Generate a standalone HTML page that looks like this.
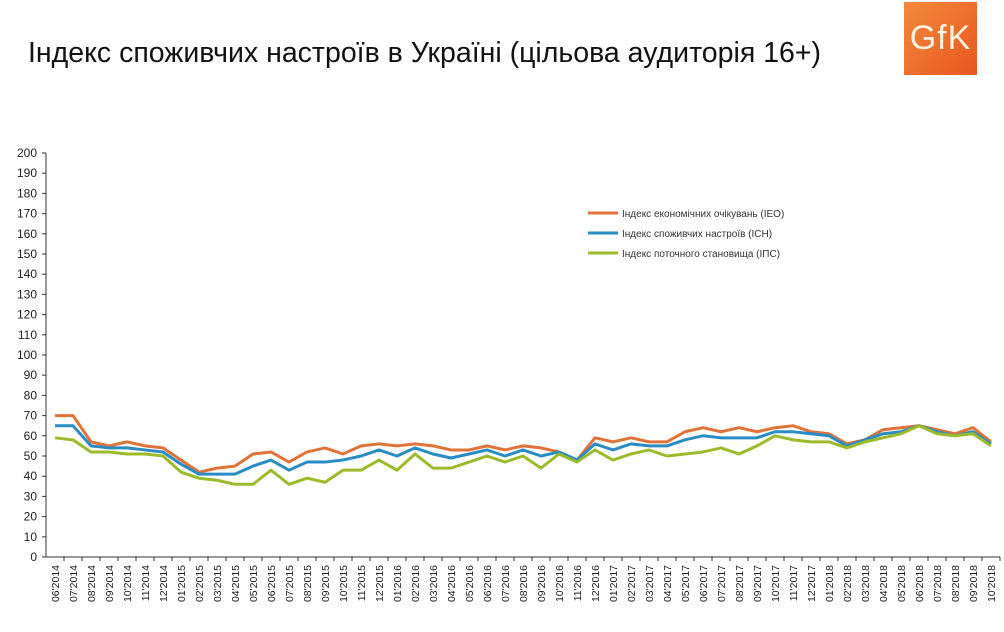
<!DOCTYPE html>
<html><head><meta charset="utf-8">
<style>
body{margin:0;width:1004px;height:632px;background:#fff;overflow:hidden;font-family:"Liberation Sans",sans-serif;}
#title{position:absolute;left:28px;top:37px;font-size:28.5px;color:#111;white-space:nowrap;}
#logo{position:absolute;left:904px;top:2px;width:73px;height:73px;background:linear-gradient(135deg,#f28a3c,#e8561e);color:#fff4e0;font-size:34px;line-height:73px;text-align:center;letter-spacing:1px;}
svg{position:absolute;left:0;top:0;}
</style></head><body>
<div id="title">Індекс споживчих настроїв в Україні (цільова аудиторія 16+)</div>
<div id="logo">GfK</div>
<svg id="chart" width="1004" height="632"></svg>
<script>
const categories=["06'2014","07'2014","08'2014","09'2014","10'2014","11'2014","12'2014","01'2015","02'2015","03'2015","04'2015","05'2015","06'2015","07'2015","08'2015","09'2015","10'2015","11'2015","12'2015","01'2016","02'2016","03'2016","04'2016","05'2016","06'2016","07'2016","08'2016","09'2016","10'2016","11'2016","12'2016","01'2017","02'2017","03'2017","04'2017","05'2017","06'2017","07'2017","08'2017","09'2017","10'2017","11'2017","12'2017","01'2018","02'2018","03'2018","04'2018","05'2018","06'2018","07'2018","08'2018","09'2018","10'2018"];
const ieo=[70,70,57,55,57,55,54,48,42,44,45,51,52,47,52,54,51,55,56,55,56,55,53,53,55,53,55,54,52,48,59,57,59,57,57,62,64,62,64,62,64,65,62,61,56,58,63,64,65,63,61,64,57];
const ich=[65,65,55,54,54,53,52,46,41,41,41,45,48,43,47,47,48,50,53,50,54,51,49,51,53,50,53,50,52,48,56,53,56,55,55,58,60,59,59,59,62,62,61,60,55,58,61,62,65,62,60,62,56];
const ips=[59,58,52,52,51,51,50,42,39,38,36,36,43,36,39,37,43,43,48,43,51,44,44,47,50,47,50,44,51,47,53,48,51,53,50,51,52,54,51,55,60,58,57,57,54,57,59,61,65,61,60,61,55];
const yTicks=[0,10,20,30,40,50,60,70,80,90,100,110,120,130,140,150,160,170,180,190,200];
const seriesNames=["Індекс економічних очікувань (ІЕО)","Індекс споживчих настроїв (ІСН)","Індекс поточного становища (ІПС)"];
const colors=["#e0733a","#2a8cc4","#9cbb2a"];
const NS="http://www.w3.org/2000/svg";
const svg=document.getElementById('chart');
const x0=46,x1=1000,yb=557,yt=153;
const step=(x1-x0)/categories.length;
const X=i=>x0+step*(i+0.5);
const Y=v=>yb-(v/200)*(yb-yt);
function mk(t,a,p){const e=document.createElementNS(NS,t);for(const k in a)e.setAttribute(k,a[k]);(p||svg).appendChild(e);return e;}
const ax=mk('line',{x1:x0,y1:yt,x2:x0,y2:yb,stroke:'#333','stroke-width':1});


const bx=mk('line',{x1:x0,y1:yb,x2:x1,y2:yb,stroke:'#333','stroke-width':1});


yTicks.forEach(v=>{
 mk('line',{x1:x0-4,y1:Y(v),x2:x0,y2:Y(v),stroke:'#333'});
 const t=mk('text',{x:x0-9,y:Y(v)+4,'text-anchor':'end','font-size':12,fill:'#222'});
 t.textContent=v;
 
 
});
categories.forEach((c,i)=>{
 mk('line',{x1:x0+step*(i+1),y1:yb,x2:x0+step*(i+1),y2:yb+4,stroke:'#333'});
 const t=mk('text',{x:0,y:0,'text-anchor':'end','font-size':10.5,fill:'#222',transform:`translate(${X(i)+4},${yb+8}) rotate(-90)`});
 t.textContent=c;
 
 
});
[ieo,ich,ips].forEach((s,k)=>{
 const p=mk('polyline',{points:s.map((v,i)=>X(i)+','+Y(v)).join(' '),fill:'none',stroke:colors[k],'stroke-width':3,'stroke-linejoin':'round'});
 
 
 const ly=213+k*20;
 const l=mk('line',{x1:588,y1:ly,x2:618,y2:ly,stroke:colors[k],'stroke-width':3});
 
 
 const t=mk('text',{x:622,y:ly+4,'font-size':10,fill:'#333'});
 t.textContent=seriesNames[k];
 
 
});
</script>
</body></html>
